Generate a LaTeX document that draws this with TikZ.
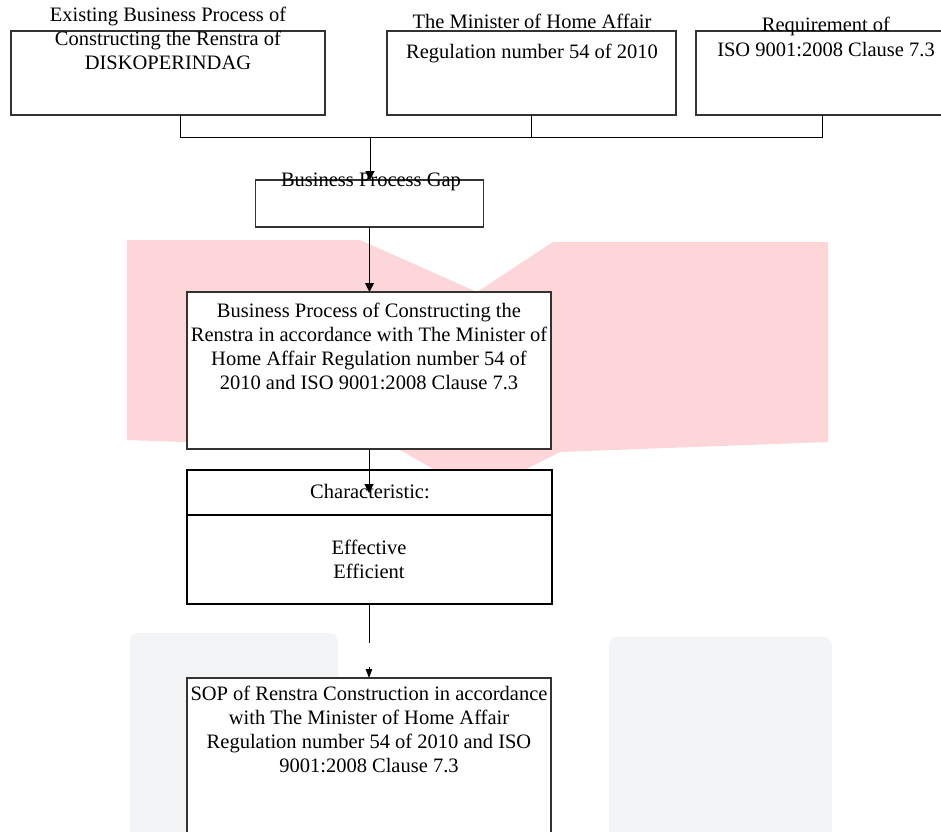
\documentclass[tikz,border=0pt]{standalone}
\usepackage{fontspec}
\setmainfont{Liberation Serif}
\usetikzlibrary{arrows.meta}
\definecolor{wmpink}{RGB}{252,214,217}
\definecolor{wmgrey}{RGB}{243,244,246}
\tikzset{
  boxst/.style={draw=black!80, line width=1.1pt, fill=white, inner sep=0pt, outer sep=0pt},
  thickbox/.style={draw=black, line width=2.4pt, fill=white, inner sep=0pt, outer sep=0pt},
  txt/.style={font=\fontsize{20.5}{24}\selectfont, align=center, inner sep=0pt, anchor=north},
  txtl/.style={font=\fontsize{20.5}{24}\selectfont, inner sep=0pt, anchor=base},
  conn/.style={draw=black, line width=1pt},
  arr/.style={conn, -{Triangle[length=9pt,width=9pt]}},
  arrs/.style={conn, -{Triangle[length=9pt,width=6.5pt]}},
}
\begin{document}
\begin{tikzpicture}[x=1pt,y=-1pt]
\clip (0,0) rectangle (941,831);
\fill[white] (0,0) rectangle (941,831);
% faint background marks
\fill[wmpink] (127,240) -- (360,240) -- (477,292) -- (553,242) -- (828,242) -- (828,442) -- (560,452) -- (477,494) -- (400,450) -- (127,440) -- cycle;
\fill[wmgrey, rounded corners=8pt] (130,633) rectangle (338,860);
\fill[wmgrey, rounded corners=8pt] (609,637) rectangle (832,860);
% boxes
\node[boxst, minimum width=314pt, minimum height=84pt] (b1) at (168,73) {};
\node[boxst, minimum width=289pt, minimum height=84pt] (b2) at (531.5,73) {};
\node[boxst, minimum width=252pt, minimum height=84pt] (b3) at (822,73) {};
\node[boxst, minimum width=228pt, minimum height=47pt] (gap) at (369.5,203.5) {};
\node[boxst, minimum width=364pt, minimum height=157pt] (big) at (369,370.5) {};
\node[thickbox, minimum width=365pt, minimum height=45pt] (chh) at (369.5,492.5) {};
\node[thickbox, minimum width=365pt, minimum height=89pt] (chb) at (369.5,559.5) {};
\node[boxst, minimum width=364pt, minimum height=180pt] (sop) at (369,768) {};
% texts
\node[txt] (t1) at (168,4.7) {\strut Existing Business Process of\\Constructing the Renstra of\\DISKOPERINDAG};
\node[txt] (t2) at (532,11.7) {\strut The Minister of Home Affair\\[6pt]Regulation number 54 of 2010};
\node[txt] (t3) at (826,14.2) {\strut Requirement of\\[1pt]ISO 9001:2008 Clause 7.3};
\node[txtl] (tg) at (371,186.5) {Business Process Gap};
\node[txt] (tb) at (369,300.2) {\strut Business Process of Constructing the\\Renstra in accordance with The Minister of\\Home Affair Regulation number 54 of\\2010 and ISO 9001:2008 Clause 7.3};
\node[txtl] (tc) at (370,498.5) {Characteristic:};
\node[txt] (te) at (369,537.2) {\strut Effective\\Efficient};
\node[txt] (ts) at (369,683.7) {\strut SOP of Renstra Construction in accordance\\with The Minister of Home Affair\\Regulation number 54 of 2010 and ISO\\9001:2008 Clause 7.3};
% connectors
\coordinate (j) at (370,137);
\coordinate (c1) at (369,493);
\coordinate (c2) at (369,643);
\coordinate (c3) at (369,667);
\draw[conn] ([xshift=12pt]b1.south) |- (b3.south |- j) -- (b3.south);
\draw[conn] (b2.south) -- (b2.south |- j);
\draw[arr] (j) -- (j |- gap.north);
\draw[arr] (gap.south) -- (gap.south |- big.north);
\draw[arr] (big.south) -- (c1);
\draw[conn] (chb.south) -- (chb.south |- c2);
\draw[arrs] (c3) -- (sop.north);
\end{tikzpicture}
\end{document}
